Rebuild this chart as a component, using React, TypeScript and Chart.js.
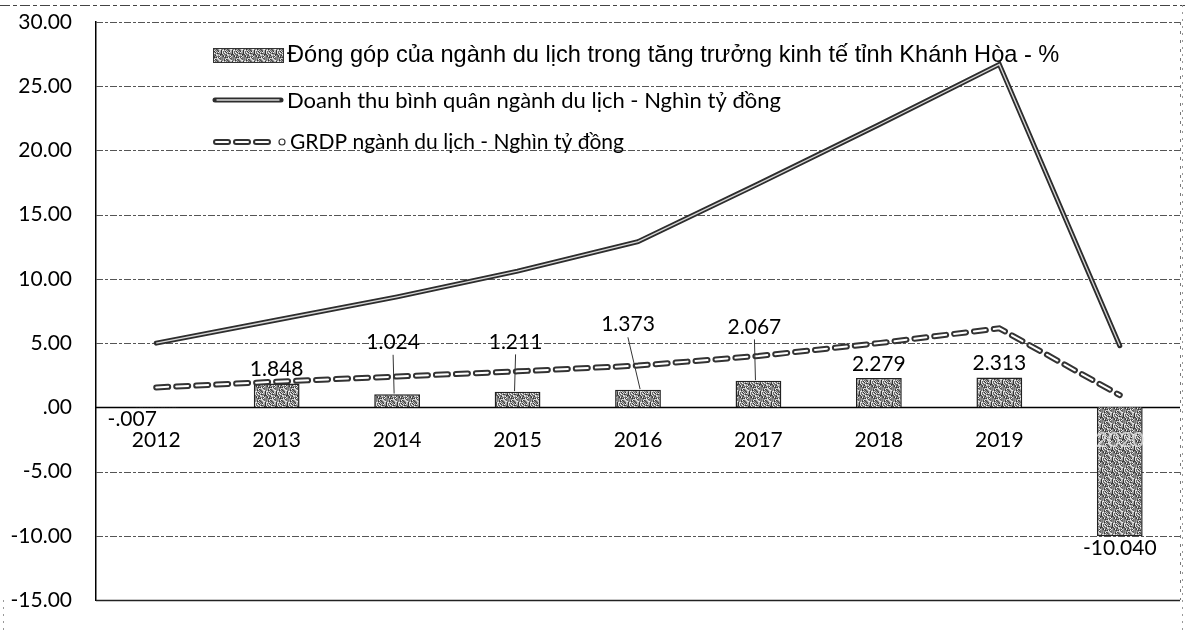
import React, { useEffect, useRef } from "react";
import { Chart, registerables } from "chart.js";

Chart.register(...registerables);

const years = ["2012", "2013", "2014", "2015", "2016", "2017", "2018", "2019", "2020"];
const contribution = [-0.007, 1.848, 1.024, 1.211, 1.373, 2.067, 2.279, 2.313, -10.04];
const contributionText = ["-.007", "1.848", "1.024", "1.211", "1.373", "2.067", "2.279", "2.313", "-10.040"];
const revenue = [5.0, 6.8, 8.6, 10.6, 12.9, 17.4, 22.0, 26.7, 4.8];
const grdp = [1.55, 2.0, 2.4, 2.8, 3.25, 4.0, 5.0, 6.15, 0.95];
const yTicks = [30, 25, 20, 15, 10, 5, 0, -5, -10, -15];
const legendLabels = [
  "Đóng góp của ngành du lịch trong tăng trưởng kinh tế tỉnh Khánh Hòa - %",
  "Doanh thu bình quân ngành du lịch - Nghìn tỷ đồng",
  "GRDP ngành du lịch - Nghìn tỷ đồng",
];

// label placement tweaks (style, not data)
const labelShift: [number, number][] = [
  [-24, 0], [0, 0], [-4, -38], [-2, -36], [-10, -51], [-4, -40], [0, 0], [0, 0], [0, 0],
];
const leader = [false, false, true, true, true, true, false, false, false];

function fmtTick(v: number) {
  if (v === 0) return ".00";
  return v.toFixed(2);
}

function makePattern(): CanvasPattern | string {
  const c = document.createElement("canvas");
  c.width = 11;
  c.height = 11;
  const g = c.getContext("2d");
  if (!g) return "#8c8c8c";
  const shades = ["#4a4a4a", "#8a8a8a", "#bcbcbc", "#6a6a6a", "#dedede", "#333333", "#a0a0a0", "#f2f2f2", "#777777"];
  for (let x = 0; x < 11; x++) {
    for (let y = 0; y < 11; y++) {
      const k = (x * 5 + y * 3 + x * y * 7 + ((x ^ y) & 3)) % shades.length;
      g.fillStyle = shades[k];
      g.fillRect(x, y, 1, 1);
    }
  }
  const p = g.createPattern(c, "repeat");
  return p || "#8c8c8c";
}

export default function App() {
  const ref = useRef<HTMLCanvasElement | null>(null);

  useEffect(() => {
    document.body.style.margin = "0";
    const canvas = ref.current;
    if (!canvas) return;
    const pattern = makePattern();

    const overlay = {
      id: "overlay",
      beforeDatasetsDraw(chart: any) {
        const { ctx, chartArea } = chart;
        const y = chart.scales.y;
        ctx.save();
        yTicks.forEach((t) => {
          const py = Math.round(y.getPixelForValue(t)) + 0.5;
          ctx.beginPath();
          if (t === 0) {
            ctx.setLineDash([]);
            ctx.strokeStyle = "#000";
            ctx.lineWidth = 1.6;
          } else if (t === -15) {
            ctx.setLineDash([]);
            ctx.strokeStyle = "#222";
            ctx.lineWidth = 1.3;
          } else {
            ctx.setLineDash([7, 2, 3, 2]);
            ctx.strokeStyle = "#555";
            ctx.lineWidth = 1;
          }
          ctx.moveTo(chartArea.left, py);
          ctx.lineTo(chartArea.right, py);
          ctx.stroke();
        });
        ctx.setLineDash([3, 6]);
        ctx.strokeStyle = "#777";
        ctx.lineWidth = 1;
        ctx.beginPath();
        ctx.moveTo(chartArea.right + 0.5, chartArea.top);
        ctx.lineTo(chartArea.right + 0.5, chartArea.bottom);
        ctx.stroke();
        ctx.setLineDash([10, 3, 4, 3]);
        ctx.strokeStyle = "#444";
        ctx.beginPath();
        ctx.moveTo(0, 5.5);
        ctx.lineTo(1185, 5.5);
        ctx.stroke();
        ctx.setLineDash([2, 5]);
        ctx.strokeStyle = "#999";
        ctx.beginPath();
        ctx.moveTo(3.5, 600);
        ctx.lineTo(3.5, 630);
        ctx.moveTo(1182.5, 5);
        ctx.lineTo(1182.5, 630);
        ctx.stroke();
        ctx.restore();
      },
      afterDatasetsDraw(chart: any) {
        const { ctx } = chart;
        const x = chart.scales.x;
        const y = chart.scales.y;
        ctx.save();
        const m1 = chart.getDatasetMeta(1);
        ctx.setLineDash([]);
        ctx.strokeStyle = "#d8d8d8";
        ctx.lineWidth = 1.3;
        ctx.beginPath();
        m1.data.forEach((p: any, i: number) => (i ? ctx.lineTo(p.x, p.y) : ctx.moveTo(p.x, p.y)));
        ctx.stroke();
        const m2 = chart.getDatasetMeta(2);
        ctx.setLineDash([12, 8]);
        ctx.lineCap = "round";
        ctx.strokeStyle = "#ffffff";
        ctx.lineWidth = 2;
        ctx.beginPath();
        m2.data.forEach((p: any, i: number) => (i ? ctx.lineTo(p.x, p.y) : ctx.moveTo(p.x, p.y)));
        ctx.stroke();
        ctx.setLineDash([]);

        ctx.font = "21px Lato";
        ctx.fillStyle = "#000";
        ctx.textAlign = "center";
        ctx.textBaseline = "middle";
        const zero = y.getPixelForValue(0);
        years.forEach((yr, i) => {
          const px = x.getPixelForValue(i);
          if (i === years.length - 1) {
            ctx.fillStyle = "rgba(225,225,225,0.8)";
          }
          ctx.fillText(yr, px, zero + 33);
        });

        const mb = chart.getDatasetMeta(0);
        ctx.fillStyle = "#000";
        mb.data.forEach((bar: any, i: number) => {
          const v = contribution[i];
          const [dx, dy] = labelShift[i];
          const top = Math.min(bar.y, bar.base);
          const bottom = Math.max(bar.y, bar.base);
          let ly = v >= 0 ? top - 14 : bottom + 12;
          ly += dy;
          const lx = bar.x + dx;
          ctx.fillText(contributionText[i], lx, ly);
          if (leader[i]) {
            ctx.strokeStyle = "#333";
            ctx.lineWidth = 1;
            ctx.beginPath();
            ctx.moveTo(lx, ly + 13);
            ctx.lineTo(bar.x + (dx < -6 ? 2 : -3), top - 1);
            ctx.stroke();
          }
        });

        // legend
        const lx0 = 213;
        const lx1 = 283;
        ctx.fillStyle = pattern as any;
        ctx.fillRect(lx0, 48, lx1 - lx0, 14);
        ctx.strokeStyle = "#333";
        ctx.lineWidth = 1;
        ctx.strokeRect(lx0 + 0.5, 48.5, lx1 - lx0, 14);
        ctx.lineCap = "round";
        ctx.strokeStyle = "#2d2d2d";
        ctx.lineWidth = 5;
        ctx.beginPath();
        ctx.moveTo(lx0 + 2, 100);
        ctx.lineTo(lx1 - 2, 100);
        ctx.stroke();
        ctx.strokeStyle = "#d8d8d8";
        ctx.lineWidth = 1.3;
        ctx.beginPath();
        ctx.moveTo(lx0 + 4, 100);
        ctx.lineTo(lx1 - 4, 100);
        ctx.stroke();
        ctx.setLineDash([12, 8]);
        ctx.strokeStyle = "#333";
        ctx.lineWidth = 6;
        ctx.beginPath();
        ctx.moveTo(lx0 + 3, 142);
        ctx.lineTo(lx1 - 10, 142);
        ctx.stroke();
        ctx.strokeStyle = "#fff";
        ctx.lineWidth = 2;
        ctx.beginPath();
        ctx.moveTo(lx0 + 3, 142);
        ctx.lineTo(lx1 - 10, 142);
        ctx.stroke();
        ctx.setLineDash([]);
        ctx.strokeStyle = "#333";
        ctx.lineWidth = 1.2;
        ctx.beginPath();
        ctx.arc(lx1 - 1, 142, 3, 0, Math.PI * 2);
        ctx.stroke();

        ctx.textAlign = "left";
        ctx.fillStyle = "#000";
        ctx.font = "23.6px 'Liberation Sans'";
        ctx.fillText(legendLabels[0], 287, 55);
        ctx.font = "22px Lato";
        ctx.fillText(legendLabels[1], 287, 101);
        ctx.font = "21px Lato";
        ctx.fillText(legendLabels[2], 290, 142);
        ctx.restore();
      },
    };

    const chart = new Chart(canvas, {
      type: "bar",
      data: {
        labels: years,
        datasets: [
          {
            type: "bar",
            label: legendLabels[0],
            data: contribution,
            backgroundColor: pattern as any,
            borderColor: "#222",
            borderWidth: 1.5,
            barPercentage: 0.38,
            categoryPercentage: 1,
            order: 2,
          },
          {
            type: "line",
            label: legendLabels[1],
            data: revenue,
            borderColor: "#2d2d2d",
            borderWidth: 5,
            pointRadius: 0,
            tension: 0,
            borderCapStyle: "round",
            order: 0,
          },
          {
            type: "line",
            label: legendLabels[2],
            data: grdp,
            borderColor: "#333",
            borderWidth: 6,
            borderDash: [12, 8],
            borderCapStyle: "round",
            pointRadius: 0,
            tension: 0,
            order: 1,
          },
        ],
      },
      options: {
        animation: false,
        responsive: true,
        maintainAspectRatio: false,
        layout: { padding: { top: 22, bottom: 32, left: 0, right: 5 } },
        plugins: { legend: { display: false }, tooltip: { enabled: false } },
        scales: {
          x: { display: false },
          y: {
            min: -15,
            max: 30,
            afterFit: (s: any) => {
              s.width = 96;
              s.paddingTop = 0;
              s.paddingBottom = 0;
            },
            afterBuildTicks: (s: any) => {
              s.ticks = yTicks.map((v) => ({ value: v }));
            },
            ticks: {
              font: { family: "Lato", size: 21 },
              color: "#000",
              padding: 24,
              callback: (v: any) => fmtTick(Number(v)),
            },
            grid: { display: false, drawTicks: false },
            border: { display: true, color: "#000", width: 1.5 },
          },
        },
      },
      plugins: [overlay],
    });

    return () => chart.destroy();
  }, []);

  return (
    <div style={{ position: "fixed", left: 0, top: 0, width: 1185, height: 632, background: "#fff" }}>
      <canvas ref={ref} />
    </div>
  );
}
